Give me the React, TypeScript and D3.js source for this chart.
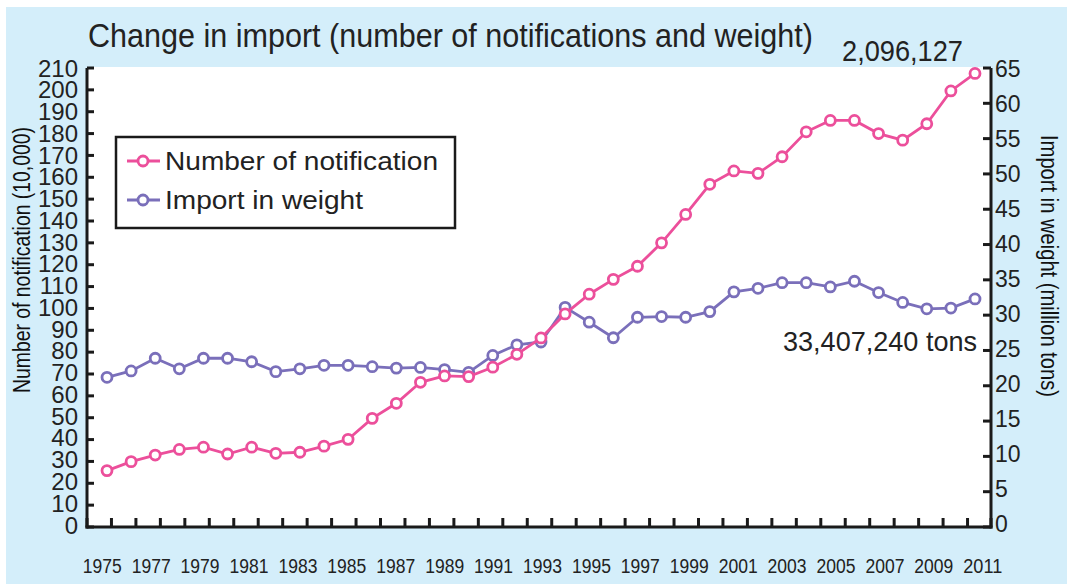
import React from "react";
import * as d3 from "d3";

const years: number[] = d3.range(1975, 2012);
const notifications: number[] = [
  25.8, 29.9, 32.9, 35.5, 36.5, 33.4, 36.5, 33.7, 34.2, 37.0,
  40.1, 49.7, 56.6, 66.2, 69.1, 68.8, 73.1, 79.0, 86.5, 97.5,
  106.5, 113.3, 119.3, 130.0, 143.0, 156.8, 162.9, 161.8, 169.4, 180.8,
  186.0, 186.0, 180.0, 177.0, 184.5, 199.5, 207.5,
];
const weights: number[] = [
  21.2, 22.1, 23.9, 22.4, 23.9, 23.9, 23.4, 22.0, 22.4, 22.9,
  22.9, 22.7, 22.5, 22.6, 22.3, 21.9, 24.3, 25.8, 26.2, 31.1,
  29.0, 26.8, 29.7, 29.8, 29.7, 30.5, 33.3, 33.8, 34.6, 34.6,
  34.0, 34.8, 33.2, 31.8, 30.9, 31.0, 32.3,
];
const leftTicks: number[] = d3.range(0, 211, 10);
const rightTicks: number[] = d3.range(0, 66, 5);
const xLabelYears: number[] = d3.range(1975, 2012, 2);

const title = "Change in import (number of notifications and weight)";
const leftTitle = "Number of notification (10,000)";
const rightTitle = "Import in weight (million tons)";
const seriesNames = ["Number of notification", "Import in weight"];
const lastNotificationLabel = "2,096,127";
const lastWeightLabel = "33,407,240 tons";

const PINK = "#ec4f9b";
const PURPLE = "#7a6fba";
const BG = "#d4eefa";
const FONT = "'Liberation Sans', Arial, sans-serif";

export default function App() {
  const W = 1067, H = 584;
  const left = 87, right = 991, top = 68, bottom = 527;

  const xBand = d3.scaleBand<number>().domain(years).range([left, right + 1]);
  const xPt = d3.scalePoint<number>().domain(years).range([107, 975]);
  const yL = d3.scaleLinear().domain([0, 210]).range([bottom, top]);
  const yR = d3.scaleLinear().domain([0, 65]).range([bottom, top]);

  const lineL = d3.line<number>().x((_, i) => xPt(years[i])!).y((d) => yL(d));
  const lineR = d3.line<number>().x((_, i) => xPt(years[i])!).y((d) => yR(d));

  const boundaries = years.map((y) => xBand(y)!).concat([right]);

  return (
    <svg
      width={W}
      height={H}
      style={{ position: "absolute", left: 0, top: 0 }}
      fontFamily={FONT}
    >
      <rect x={0} y={0} width={W} height={H} fill="#ffffff" />
      <rect x={6} y={7} width={W - 6} height={H - 7} fill={BG} />
      <rect x={left} y={top - 1} width={right - left} height={bottom - top + 1} fill="#ffffff" />

      {/* title */}
      <text x={88} y={47} fontSize={33} fill="#222" textLength={725} lengthAdjust="spacingAndGlyphs">
        {title}
      </text>

      {/* axes lines */}
      <line x1={left} y1={top} x2={left} y2={bottom + 1.5} stroke="#1a1a1a" strokeWidth={3} />
      <line x1={right} y1={top} x2={right} y2={bottom + 1.5} stroke="#1a1a1a" strokeWidth={3} />
      <line x1={left - 1.5} y1={bottom} x2={right + 1.5} y2={bottom} stroke="#1a1a1a" strokeWidth={3} />

      {/* left ticks + labels */}
      {leftTicks.map((v) => (
        <g key={"l" + v}>
          <line x1={left} x2={left + 7} y1={yL(v)} y2={yL(v)} stroke="#1a1a1a" strokeWidth={3} />
          <text x={78} y={yL(v) - 2 * (1 - v / 210)} fontSize={24} fill="#222" textAnchor="end" dominantBaseline="central">
            {v}
          </text>
        </g>
      ))}

      {/* right ticks + labels */}
      {rightTicks.map((v) => (
        <g key={"r" + v}>
          <line x1={right - 8} x2={right} y1={yR(v)} y2={yR(v)} stroke="#1a1a1a" strokeWidth={3} />
          <text x={995} y={yR(v) + 1 - 4 * (1 - v / 65)} fontSize={23} fill="#222" textAnchor="start" dominantBaseline="central">
            {v}
          </text>
        </g>
      ))}

      {/* x ticks */}
      {boundaries.map((bx, i) => (
        <line key={"x" + i} x1={bx} x2={bx} y1={bottom} y2={bottom - 9} stroke="#1a1a1a" strokeWidth={3} />
      ))}
      {xLabelYears.map((yr) => (
        <text
          key={"xl" + yr}
          x={xBand(yr)! + xBand.bandwidth() / 2 + 3}
          y={573}
          fontSize={20}
          fill="#222"
          textAnchor="middle"
          textLength={39}
          lengthAdjust="spacingAndGlyphs"
        >
          {yr}
        </text>
      ))}

      {/* axis titles */}
      <text
        transform="translate(30,260) rotate(-90)"
        fontSize={23}
        fill="#111"
        textAnchor="middle"
        textLength={266}
        lengthAdjust="spacingAndGlyphs"
      >
        {leftTitle}
      </text>
      <text
        transform="translate(1041,266) rotate(90)"
        fontSize={23}
        fill="#111"
        textAnchor="middle"
        textLength={262}
        lengthAdjust="spacingAndGlyphs"
      >
        {rightTitle}
      </text>

      {/* series */}
      <path d={lineR(weights)!} fill="none" stroke={PURPLE} strokeWidth={2.8} />
      {weights.map((v, i) => (
        <circle key={"w" + i} cx={xPt(years[i])!} cy={yR(v)} r={5} fill="#fff" stroke={PURPLE} strokeWidth={2.8} />
      ))}
      <path d={lineL(notifications)!} fill="none" stroke={PINK} strokeWidth={2.8} />
      {notifications.map((v, i) => (
        <circle key={"n" + i} cx={xPt(years[i])!} cy={yL(v)} r={5} fill="#fff" stroke={PINK} strokeWidth={2.8} />
      ))}

      {/* annotations */}
      <text x={842} y={61} fontSize={30} fill="#222" textLength={121} lengthAdjust="spacingAndGlyphs">
        {lastNotificationLabel}
      </text>
      <text x={783} y={351} fontSize={28} fill="#222" textLength={194} lengthAdjust="spacingAndGlyphs">
        {lastWeightLabel}
      </text>

      {/* legend */}
      <rect x={116} y={137} width={339} height={91} fill="#fff" stroke="#1a1a1a" strokeWidth={2.5} />
      {seriesNames.map((name, i) => {
        const cy = 161 + i * 39;
        const col = i === 0 ? PINK : PURPLE;
        return (
          <g key={"lg" + i}>
            <line x1={127} x2={160} y1={cy} y2={cy} stroke={col} strokeWidth={2.8} />
            <circle cx={143} cy={cy} r={5} fill="#fff" stroke={col} strokeWidth={2.8} />
            <text x={165} y={cy + 9} fontSize={25} fill="#222" textLength={i === 0 ? 273 : 198} lengthAdjust="spacingAndGlyphs">
              {name}
            </text>
          </g>
        );
      })}
    </svg>
  );
}
